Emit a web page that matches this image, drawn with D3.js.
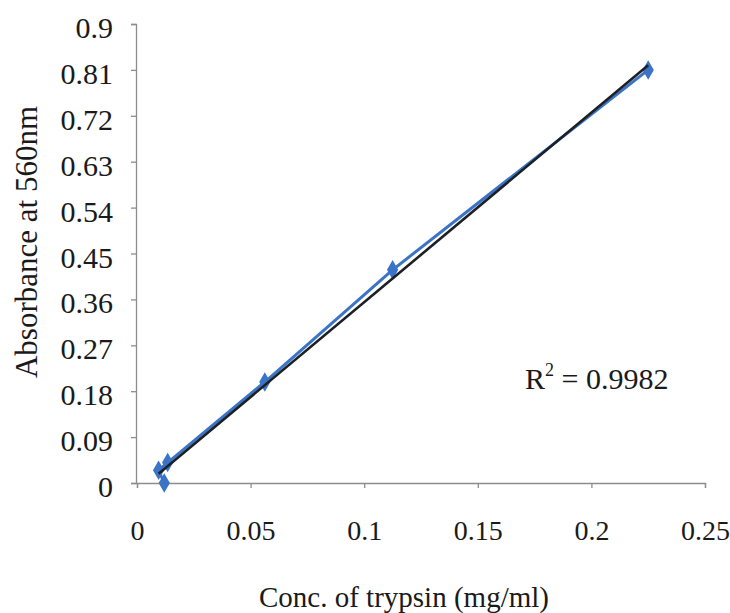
<!DOCTYPE html>
<html>
<head>
<meta charset="utf-8">
<script src="https://cdn.jsdelivr.net/npm/d3@7"></script>
<style>
  html, body { margin: 0; padding: 0; background: #ffffff; }
  svg { display: block; }
  svg text { font-family: "Liberation Serif", "Times New Roman", Times, serif !important; fill: #1a1a1a; }
</style>
</head>
<body>
<svg id="chart" width="730" height="613"></svg>
<script>
// Standard curve: trypsin concentration vs absorbance at 560 nm
const concentration = [0.225, 0.1125, 0.05625, 0.0135, 0.0095, 0.012];
const absorbance    = [0.81, 0.418, 0.198, 0.04, 0.025, 0.0];
const yTicks = [0, 0.09, 0.18, 0.27, 0.36, 0.45, 0.54, 0.63, 0.72, 0.81, 0.9];
const xTicks = [0, 0.05, 0.1, 0.15, 0.2, 0.25];
const rSquaredLabel = "0.9982";

const serif = "'Liberation Serif', 'Times New Roman', serif";
const svg = d3.select("#chart");
const x = d3.scaleLinear().domain([0, 0.25]).range([137, 705]);
const y = d3.scaleLinear().domain([0, 0.9]).range([483, 24]);

const axisColor = "#8c8c8c";
const fmt = d => d === 0 ? "0" : String(+d.toFixed(2));

// Y axis
const yAxis = svg.append("g")
  .attr("transform", `translate(${x(0) - 1},0)`)
  .call(d3.axisLeft(y).tickValues(yTicks).tickSize(5).tickPadding(18).tickFormat(fmt))
  .attr("font-family", serif);
yAxis.select(".domain").attr("stroke", axisColor).attr("stroke-width", 1.3);
yAxis.selectAll(".tick line").attr("stroke", axisColor).attr("stroke-width", 1.3);
yAxis.selectAll(".tick text").attr("font-size", 30).attr("fill", "#1a1a1a")
  .attr("dy", "0.45em")
  .style("font-family", serif);

// X axis
const xAxis = svg.append("g")
  .attr("transform", `translate(0,${y(0)})`)
  .call(d3.axisBottom(x).tickValues(xTicks).tickSize(5).tickPadding(32).tickFormat(fmt))
  .attr("font-family", serif);
xAxis.select(".domain").attr("stroke", axisColor).attr("stroke-width", 1.3);
xAxis.selectAll(".tick line").attr("stroke", axisColor).attr("stroke-width", 1.3);
xAxis.selectAll(".tick text").attr("font-size", 28).attr("fill", "#1a1a1a")
  .style("font-family", serif);

// Axis titles
svg.append("text")
  .attr("x", 404).attr("y", 607)
  .attr("text-anchor", "middle")
  .attr("font-size", 29)
  .style("font-family", serif)
  .text("Conc. of trypsin (mg/ml)");

svg.append("text")
  .attr("transform", `translate(37,242) rotate(-90)`)
  .attr("text-anchor", "middle")
  .attr("font-size", 31)
  .style("font-family", serif)
  .text("Absorbance at 560nm");

// Data series: points joined in recorded order
const pts = concentration.map((c, i) => ({ c, a: absorbance[i] }));
const blue = "#3b74c6";

svg.append("path")
  .datum(pts)
  .attr("fill", "none")
  .attr("stroke", blue)
  .attr("stroke-width", 3)
  .attr("stroke-linejoin", "round")
  .attr("d", d3.line().x(d => x(d.c)).y(d => y(d.a)));

svg.selectAll(".pt")
  .data(pts)
  .enter().append("path")
  .attr("class", "pt")
  .attr("transform", d => `translate(${x(d.c)},${y(d.a)})`)
  .attr("d", d3.symbol().type(d3.symbolDiamond).size(110))
  .attr("fill", blue);

// Linear least-squares trendline across the data range
const mx = d3.mean(concentration), my = d3.mean(absorbance);
const sxy = d3.sum(concentration, (c, i) => (c - mx) * (absorbance[i] - my));
const sxx = d3.sum(concentration, c => (c - mx) * (c - mx));
const slope = sxy / sxx, intercept = my - slope * mx;
const [x0, x1] = d3.extent(concentration);

svg.append("line")
  .attr("x1", x(x0)).attr("y1", y(slope * x0 + intercept))
  .attr("x2", x(x1)).attr("y2", y(slope * x1 + intercept))
  .attr("stroke", "#1c1f24")
  .attr("stroke-width", 2.6);

// R² annotation
const r2 = svg.append("text")
  .attr("x", 525).attr("y", 389)
  .attr("font-size", 30)
  .style("font-family", serif);
r2.append("tspan").text("R");
r2.append("tspan").attr("dy", -13).attr("font-size", 18).text("2");
r2.append("tspan").attr("dy", 13).text(" = " + rSquaredLabel);
</script>
</body>
</html>
